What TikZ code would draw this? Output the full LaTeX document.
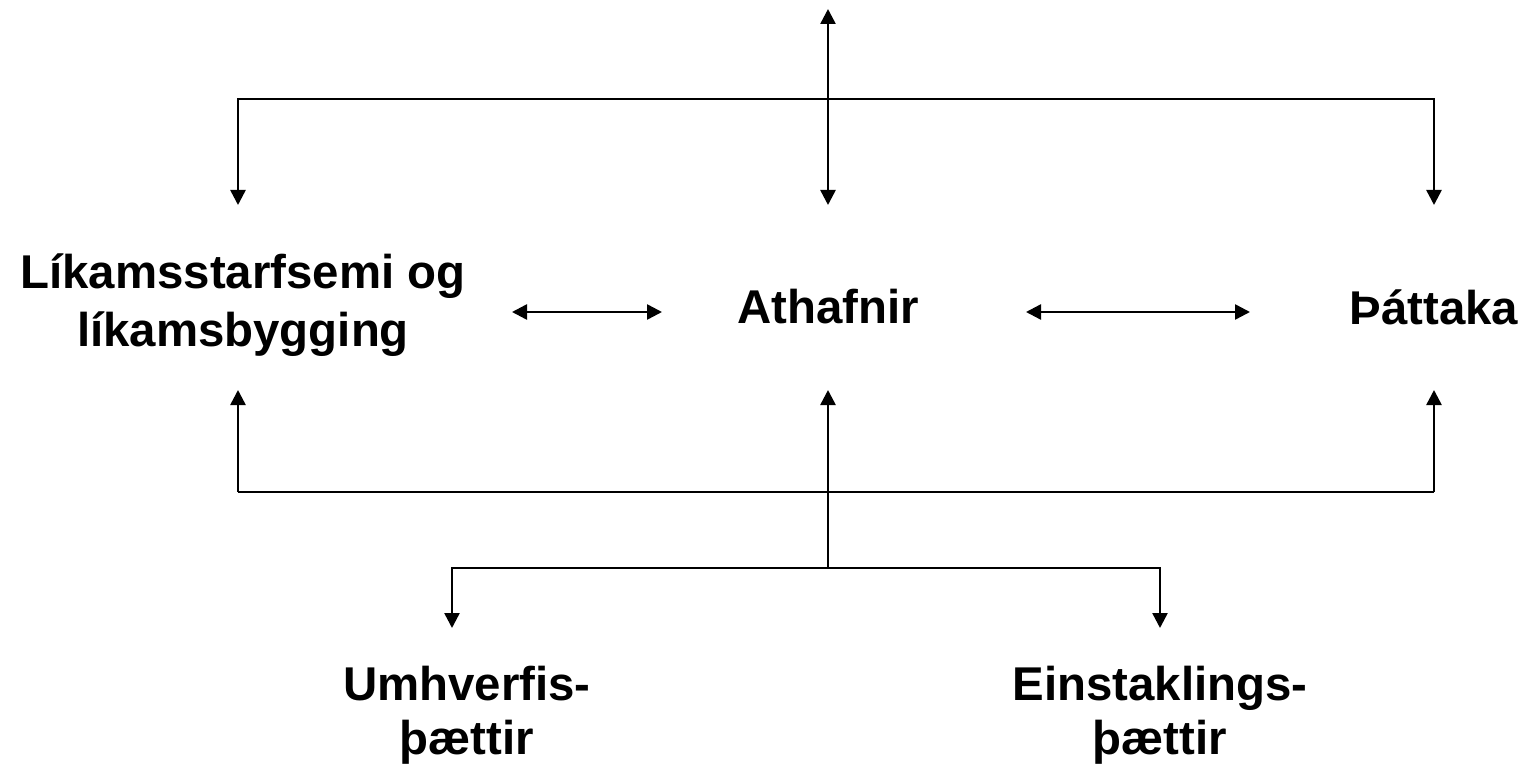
\documentclass[tikz,border=0pt]{standalone}
\usepackage{fontspec}
\setmainfont{Liberation Sans}
\usetikzlibrary{arrows.meta}
\begin{document}
\begin{tikzpicture}[x=0.5pt,y=-0.5pt,
  lbl/.style={font=\fontsize{23.7pt}{27pt}\selectfont\bfseries,align=center,inner sep=0pt},
  conn/.style={line width=1.25pt},
  tip/.style={-{Triangle[width=7.5pt,length=7.5pt]}},
  dtip/.style={{Triangle[width=7.5pt,length=7.5pt]}-{Triangle[width=7.5pt,length=7.5pt]}}]
\useasboundingbox (0,0) rectangle (1526,770);
% nodes
\node[lbl,font=\fontsize{23.7pt}{29pt}\selectfont\bfseries] (body) at (243,305) {Líkamsstarfsemi og\\líkamsbygging};
\node[lbl] (act) at (828,307) {Athafnir};
\node[lbl] (part) at (1434,307) {Þáttaka};
\node[lbl] (env) at (467,715) {Umhverfis-\\þættir};
\node[lbl] (pers) at (1160,715) {Einstaklings-\\þættir};
% coordinates
\coordinate (top) at (828,9);
\coordinate (actT) at (828,205);
\coordinate (bodyT) at (238,205);
\coordinate (partT) at (1434,205);
\coordinate (hL) at (238,99);
\coordinate (hR) at (1434,99);
\coordinate (bodyR) at (512,312);
\coordinate (actL) at (662,312);
\coordinate (actR) at (1026,312);
\coordinate (partL) at (1250,312);
\coordinate (bodyB) at (238,390);
\coordinate (actB) at (828,390);
\coordinate (partB) at (1434,390);
\coordinate (mL) at (238,492);
\coordinate (mM) at (828,492);
\coordinate (mR) at (1434,492);
\coordinate (jM) at (828,568);
\coordinate (jL) at (452,568);
\coordinate (jR) at (1160,568);
\coordinate (envT) at (452,628);
\coordinate (persT) at (1160,628);
% connectors
\draw[conn,dtip] (top) -- (actT);
\draw[conn,dtip] (bodyT) -- (hL) -- (hR) -- (partT);
\draw[conn,dtip] (bodyR) -- (actL);
\draw[conn,dtip] (actR) -- (partL);
\draw[conn] (mL) -- (mR);
\draw[conn,tip] (mL) -- (bodyB);
\draw[conn,tip] (mR) -- (partB);
\draw[conn,tip] (jM) -- (actB);
\draw[conn,dtip] (envT) -- (jL) -- (jR) -- (persT);
\end{tikzpicture}
\end{document}
